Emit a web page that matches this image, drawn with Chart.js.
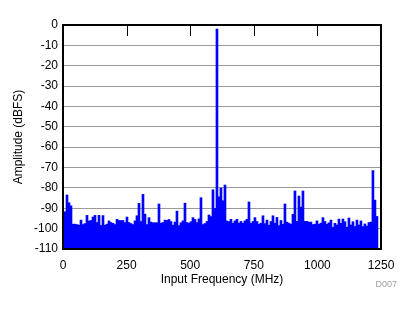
<!DOCTYPE html>
<html>
<head>
<meta charset="utf-8">
<script src="https://cdn.jsdelivr.net/npm/chart.js@4.4.1/dist/chart.umd.min.js"></script>
<style>
  html, body { margin: 0; padding: 0; background: #fff; }
  #chart { display: block; }
</style>
</head>
<body>
<canvas id="chart" width="414" height="312"></canvas>
<script>
// FFT bins (dBFS)
const amplitudeDbfs = [
  -91.7, -83.5, -87.3, -88.8, -97.8, -97.8, -98.0, -98.3, -95.8, -98.0,
  -97.5, -93.5, -96.2, -96.0, -94.3, -93.5, -97.0, -93.5, -98.4, -93.6,
  -98.3, -97.8, -96.2, -97.0, -97.4, -98.0, -95.4, -96.0, -96.0, -96.0,
  -97.0, -94.3, -97.0, -97.5, -98.0, -96.2, -93.7, -87.6, -96.5, -83.2,
  -92.9, -98.0, -94.6, -96.8, -97.1, -97.1, -97.1, -87.9, -97.3, -97.0,
  -95.8, -96.0, -95.5, -96.5, -98.3, -96.8, -91.4, -98.5, -97.1, -96.2,
  -87.5, -97.0, -97.3, -96.6, -94.6, -95.5, -97.0, -95.2, -84.8, -98.0,
  -97.5, -96.5, -93.3, -94.1, -80.9, -90.0, -2.0, -84.4, -80.1, -86.3,
  -78.6, -96.2, -96.5, -95.4, -97.3, -96.2, -95.4, -97.3, -96.5, -97.3,
  -96.2, -95.4, -86.9, -97.3, -96.5, -94.6, -96.5, -97.8, -97.3, -93.7,
  -97.5, -95.8, -98.3, -96.5, -93.7, -97.3, -94.5, -98.5, -96.0, -97.8,
  -87.9, -96.8, -97.3, -97.8, -93.0, -81.5, -96.4, -84.0, -89.4, -81.5,
  -96.4, -96.4, -96.8, -96.8, -98.0, -97.8, -96.2, -97.8, -97.3, -94.6,
  -96.5, -97.8, -97.1, -95.8, -99.3, -97.4, -98.2, -95.3, -97.4, -95.3,
  -96.6, -99.3, -94.8, -98.2, -96.6, -99.0, -95.8, -98.2, -96.2, -99.0,
  -97.7, -98.7, -97.0, -96.8, -71.5, -86.0, -94.0
];
const binWidthMHz = 7.86;
const xTicks = [0, 250, 500, 750, 1000, 1250];
const topTicks = [250, 500, 750, 1000];
const yMin = -110;
const yMax = 0;

Chart.defaults.font.family = "'Liberation Sans', Arial, sans-serif";
Chart.defaults.font.size = 12;
Chart.defaults.color = "#000";

const points = amplitudeDbfs.map((v, i) => ({ x: (i + 1) * binWidthMHz, y: v }));

// frame, inner ticks on the top edge, figure id
const framePlugin = {
  id: "frame",
  afterDatasetsDraw(chart) {
    const { ctx, chartArea: a, scales } = chart;
    ctx.save();
    ctx.strokeStyle = "#000";
    ctx.lineWidth = 1;
    ctx.beginPath();
    topTicks.forEach((v) => {
      const x = Math.round(scales.x.getPixelForValue(v)) + 0.5;
      ctx.moveTo(x, a.top);
      ctx.lineTo(x, a.top + 11);
    });
    ctx.stroke();
    ctx.lineWidth = 2;
    ctx.strokeRect(a.left, a.top, a.right - a.left, a.bottom - a.top);
    ctx.fillStyle = "#a0a0a0";
    ctx.font = "9px 'Liberation Sans', Arial, sans-serif";
    ctx.textAlign = "right";
    ctx.textBaseline = "middle";
    ctx.fillText("D007", 397, 285);
    ctx.restore();
  },
};

new Chart(document.getElementById("chart"), {
  type: "bar",
  data: {
    datasets: [
      {
        data: points,
        base: yMin,
        backgroundColor: "#0000ff",
        borderWidth: 0,
        barPercentage: 1,
        categoryPercentage: 1,
      },
    ],
  },
  options: {
    responsive: false,
    animation: false,
    layout: { padding: { top: 25, right: 33, bottom: 20, left: 0 } },
    plugins: {
      legend: { display: false },
      tooltip: { enabled: false },
    },
    scales: {
      x: {
        type: "linear",
        offset: false,
        min: xTicks[0],
        max: xTicks[xTicks.length - 1],
        afterBuildTicks: (s) => { s.ticks = xTicks.map((v) => ({ value: v })); },
        afterFit: (s) => { s.height = 43; },
        grid: { display: false, drawTicks: false },
        border: { display: false },
        ticks: { padding: 9, maxRotation: 0, callback: (v) => String(v) },
        title: {
          display: true,
          text: "Input Frequency (MHz)",
          padding: { top: 0, bottom: 5 },
        },
      },
      y: {
        min: yMin,
        max: yMax,
        ticks: { stepSize: 10, padding: 5, callback: (v) => String(v) },
        afterFit: (s) => { s.width = 63; },
        grid: { color: "#999999", lineWidth: 1, drawTicks: false },
        border: { display: false },
        title: {
          display: true,
          text: "Amplitude (dBFS)",
          padding: { top: 11, bottom: 0 },
        },
      },
    },
  },
  plugins: [framePlugin],
});
</script>
</body>
</html>
